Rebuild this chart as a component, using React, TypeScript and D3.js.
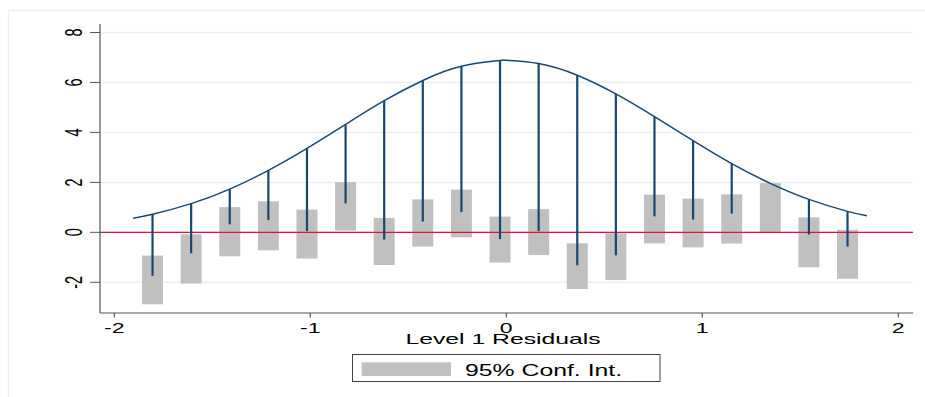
import React from "react";
import * as d3 from "d3";

// Bin midpoints of the level-1 residual histogram
const binCenters = [
  -1.805, -1.608, -1.411, -1.214, -1.017, -0.82, -0.623, -0.426, -0.229, -0.032,
  0.165, 0.362, 0.559, 0.756, 0.953, 1.15, 1.347, 1.544, 1.741,
];
// Square-root expected frequency (normal fit) at each bin midpoint – top of each spike
const expectedRoot = [
  0.72, 1.15, 1.73, 2.48, 3.36, 4.32, 5.27, 6.08, 6.65, 6.88,
  6.76, 6.29, 5.54, 4.63, 3.67, 2.75, 1.96, 1.32, 0.84,
];
// Bottom of each hanging spike (expected root minus observed root)
const spikeBottom = [
  -1.74, -0.84, 0.32, 0.49, 0.05, 1.16, -0.29, 0.43, 0.81, -0.27,
  0.05, -1.32, -0.92, 0.64, 0.51, 0.75, 1.96, -0.09, -0.57,
];
// 95% confidence interval bars
const ciLower = [
  -2.88, -2.05, -0.96, -0.72, -1.05, 0.07, -1.31, -0.57, -0.2, -1.21,
  -0.91, -2.27, -1.91, -0.44, -0.6, -0.45, -0.01, -1.4, -1.86,
];
const ciUpper = [
  -0.93, -0.08, 1.01, 1.24, 0.91, 2.01, 0.58, 1.32, 1.71, 0.63,
  0.93, -0.44, -0.04, 1.51, 1.35, 1.52, 1.97, 0.6, 0.1,
];
// Fitted curve: outer bin edges plus the peak, joined with the bin midpoints
const curveEdgeX = [-1.9035, 0, 1.8395];
const curveEdgeY = [0.565, 6.89, 0.66];

const xTicks = [-2, -1, 0, 1, 2];
const yTicks = [-2, 0, 2, 4, 6, 8];
const xTickLabels = ["-2", "-1", "0", "1", "2"];
const yTickLabels = ["-2", "0", "2", "4", "6", "8"];
const xTitle = "Level 1 Residuals";
const legendLabel = "95% Conf. Int.";

const W = 925;
const H = 397;
const FONT = "'Liberation Sans', Arial, Helvetica, sans-serif";
const NAVY = "#1a476f";
const CI_GRAY = "#c0c0c0";
const GRID = "#e9f0f1";
const AXIS = "#555555";
const ZERO_RED = "#d7153f";
const STRETCH = 1.65; // horizontal text stretch of the exported graph

const x = d3.scaleLinear().domain([-2, 2]).range([114.3, 898.3]);
const y = d3.scaleLinear().domain([-2, 8]).range([282.3, 32.5]);

const plotX0 = 100;
const plotX1 = 913;
const plotY0 = 24;
const plotY1 = 313;
const barWidth = 0.107; // in residual units

export default function App() {
  const curvePts = binCenters
    .map((c, i) => [c, expectedRoot[i]] as [number, number])
    .concat(curveEdgeX.map((c, i) => [c, curveEdgeY[i]] as [number, number]))
    .sort((a, b) => a[0] - b[0]);
  const line = d3
    .line<[number, number]>()
    .x((d) => x(d[0]))
    .y((d) => y(d[1]))
    .curve(d3.curveNatural);

  return (
    <svg
      width={W}
      height={H}
      style={{ position: "absolute", left: 0, top: 0, background: "#fff" }}
      fontFamily={FONT}
    >
      {/* graph region frame */}
      <line x1={8.5} x2={W} y1={10.5} y2={10.5} stroke={GRID} strokeWidth={1.5} />
      <line x1={8.5} x2={8.5} y1={10.5} y2={H} stroke={GRID} strokeWidth={1.5} />

      {/* horizontal gridlines */}
      {yTicks.map((t) => (
        <line
          key={"g" + t}
          x1={plotX0}
          x2={plotX1}
          y1={y(t)}
          y2={y(t)}
          stroke={GRID}
          strokeWidth={1.5}
        />
      ))}

      {/* confidence interval bars */}
      {binCenters.map((c, i) => (
        <rect
          key={"ci" + i}
          x={x(c - barWidth / 2)}
          width={x(c + barWidth / 2) - x(c - barWidth / 2)}
          y={y(ciUpper[i])}
          height={y(ciLower[i]) - y(ciUpper[i])}
          fill={CI_GRAY}
        />
      ))}

      {/* zero reference line */}
      <line
        x1={plotX0}
        x2={plotX1}
        y1={y(0)}
        y2={y(0)}
        stroke={ZERO_RED}
        strokeWidth={1.3}
      />

      {/* hanging spikes */}
      {binCenters.map((c, i) => (
        <line
          key={"s" + i}
          x1={x(c)}
          x2={x(c)}
          y1={y(expectedRoot[i])}
          y2={y(spikeBottom[i])}
          stroke={NAVY}
          strokeWidth={2.2}
        />
      ))}

      {/* fitted curve */}
      <path d={line(curvePts) ?? ""} fill="none" stroke={NAVY} strokeWidth={1.5} />

      {/* axes */}
      <line x1={plotX0} x2={plotX0} y1={plotY0} y2={plotY1} stroke={AXIS} strokeWidth={1.2} />
      <line x1={plotX0} x2={plotX1} y1={plotY1} y2={plotY1} stroke={AXIS} strokeWidth={1.2} />

      {yTicks.map((t, i) => (
        <g key={"yt" + t}>
          <line x1={plotX0 - 10} x2={plotX0} y1={y(t)} y2={y(t)} stroke={AXIS} strokeWidth={1} />
          <text
            transform={`translate(81.7,${y(t)}) scale(${STRETCH},1) rotate(-90)`}
            textAnchor="middle"
            fontSize={14.5}
            fill="#000"
          >
            {yTickLabels[i]}
          </text>
        </g>
      ))}

      {xTicks.map((t, i) => (
        <g key={"xt" + t}>
          <line x1={x(t)} x2={x(t)} y1={plotY1} y2={plotY1 + 4.5} stroke={AXIS} strokeWidth={1.2} />
          <text
            transform={`translate(${x(t)},333.3) scale(${STRETCH},1)`}
            textAnchor="middle"
            fontSize={14}
            fill="#000"
          >
            {xTickLabels[i]}
          </text>
        </g>
      ))}

      <text
        transform={`translate(503,344) scale(${STRETCH},1)`}
        textAnchor="middle"
        fontSize={15}
        fill="#000"
      >
        {xTitle}
      </text>

      {/* legend */}
      <rect x={352.5} y={354.5} width={307.5} height={27} fill="#fff" stroke="#404040" strokeWidth={1} />
      <rect x={361.7} y={362.3} width={89.3} height={13.7} fill={CI_GRAY} />
      <text
        transform={`translate(465,376) scale(1.55,1)`}
        fontSize={16}
        fill="#000"
      >
        {legendLabel}
      </text>
    </svg>
  );
}
